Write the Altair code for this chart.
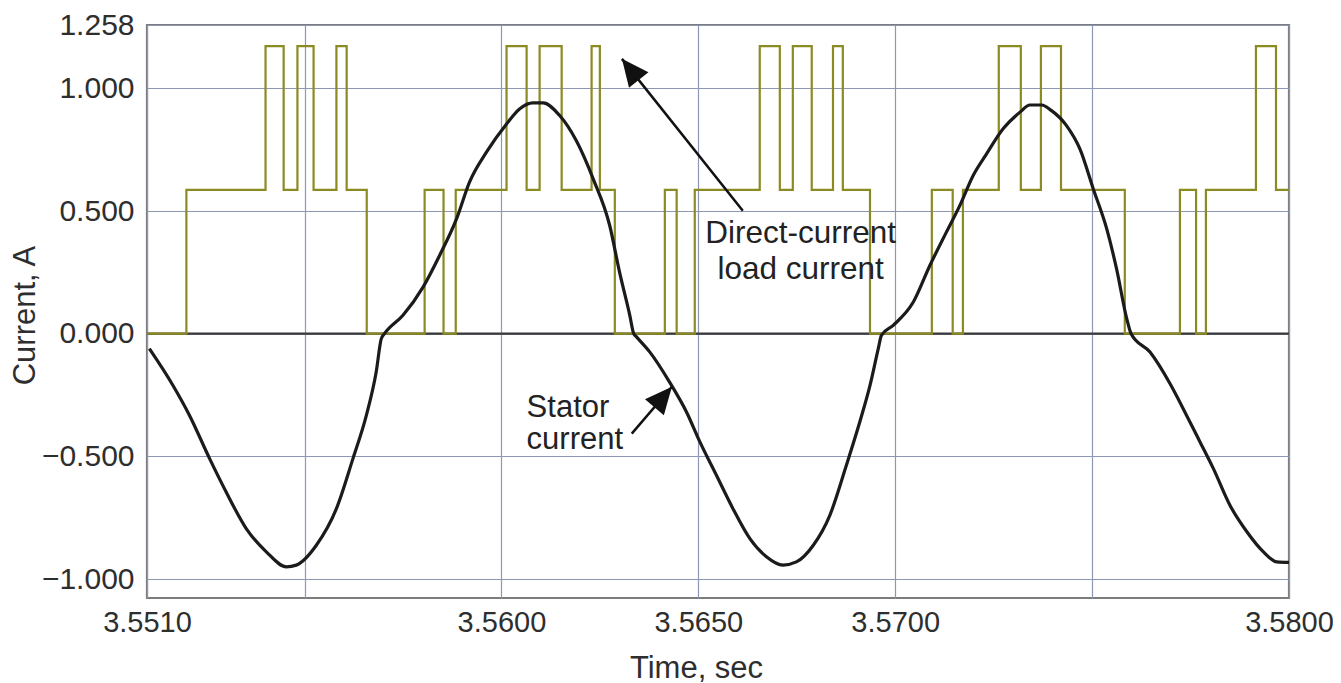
import altair as alt
import pandas as pd

# ---------------- data ----------------
stator_time = [3.55106, 3.55166, 3.55208, 3.55259, 3.55301, 3.55352, 3.55403, 3.55454, 3.55479,
               3.55530, 3.55581, 3.55623, 3.55657, 3.55682, 3.55695, 3.55703, 3.55750, 3.55801,
               3.55843, 3.55886, 3.55919, 3.55962, 3.56013, 3.56046, 3.56080, 3.56106, 3.56148,
               3.56190, 3.56233, 3.56275, 3.56300, 3.56326, 3.56336, 3.56343, 3.56377, 3.56427,
               3.56470, 3.56504, 3.56546, 3.56588, 3.56631, 3.56673, 3.56715, 3.56749, 3.56792,
               3.56834, 3.56876, 3.56910, 3.56936, 3.56957, 3.56965, 3.56995, 3.57046, 3.57088,
               3.57130, 3.57164, 3.57198, 3.57232, 3.57274, 3.57317, 3.57342, 3.57372, 3.57397,
               3.57435, 3.57469, 3.57503, 3.57537, 3.57562, 3.57588, 3.57599, 3.57647, 3.57698,
               3.57740, 3.57774, 3.57808, 3.57850, 3.57893, 3.57935, 3.57969, 3.58000]
stator_current = [-0.061, -0.211, -0.333, -0.509, -0.645, -0.794, -0.889, -0.950, -0.943,
                  -0.862, -0.713, -0.509, -0.333, -0.156, -0.020, 0.000, 0.075, 0.190,
                  0.319, 0.468, 0.618, 0.740, 0.855, 0.916, 0.941, 0.941, 0.889,
                  0.787, 0.631, 0.441, 0.251, 0.075, 0.000, -0.013, -0.075, -0.197,
                  -0.319, -0.441, -0.577, -0.713, -0.835, -0.909, -0.943, -0.930, -0.862,
                  -0.740, -0.536, -0.360, -0.211, -0.061, -0.007, 0.034, 0.129, 0.278,
                  0.414, 0.522, 0.645, 0.733, 0.835, 0.903, 0.932, 0.932, 0.909,
                  0.848, 0.753, 0.590, 0.428, 0.265, 0.061, 0.000, -0.075, -0.204,
                  -0.333, -0.441, -0.550, -0.699, -0.807, -0.889, -0.930, -0.932]

dc_time = [3.55100, 3.55200, 3.55401, 3.55447, 3.55482, 3.55523, 3.55581, 3.55607, 3.55658,
           3.55805, 3.55853, 3.55884, 3.56013, 3.56064, 3.56097, 3.56153, 3.56229, 3.56250,
           3.56288, 3.56415, 3.56445, 3.56491, 3.56656, 3.56707, 3.56740, 3.56788, 3.56842,
           3.56867, 3.56936, 3.57093, 3.57146, 3.57172, 3.57263, 3.57319, 3.57370, 3.57421,
           3.57583, 3.57723, 3.57764, 3.57789, 3.57916, 3.57967, 3.58000]
dc_current = [0.0, 0.586, 1.172, 0.586, 1.172, 0.586, 1.172, 0.586, 0.0,
              0.586, 0.0, 0.586, 1.172, 0.586, 1.172, 0.586, 1.172, 0.586,
              0.0, 0.586, 0.0, 0.586, 1.172, 0.586, 1.172, 0.586, 1.172,
              0.586, 0.0, 0.586, 0.0, 0.586, 1.172, 0.586, 1.172, 0.586,
              0.0, 0.586, 0.0, 0.586, 1.172, 0.586, 0.586]

x_ticks = [3.551, 3.555, 3.560, 3.565, 3.570, 3.575, 3.580]
y_ticks = [-1.0, -0.5, 0.0, 0.5, 1.0, 1.258]

# annotations: arrows (tail -> tip) and labels
arrow_tail_t = [3.56613, 3.56331]
arrow_tail_i = [0.501, -0.407]
arrow_tip_t = [3.56306, 3.56433]
arrow_tip_i = [1.120, -0.216]
arrow_angle = [321.5, 40.4]

label_text = ["Direct-current", "load current", "Stator", "current"]
label_t = [3.56760, 3.56760, 3.56064, 3.56064]
label_i = [0.370, 0.224, -0.338, -0.468]
label_align = ["center", "center", "left", "left"]

# ---------------- chart ----------------
FONT = "Liberation Sans"
xs = alt.Scale(domain=[3.551, 3.580], nice=False, zero=False)
ys = alt.Scale(domain=[-1.077, 1.258], nice=False, zero=False)

stator_df = pd.DataFrame({"t": stator_time, "i": stator_current})
dc_df = pd.DataFrame({"t": dc_time, "i": dc_current})
arrow_df = pd.DataFrame({"t": arrow_tail_t, "i": arrow_tail_i,
                         "t2": arrow_tip_t, "i2": arrow_tip_i, "angle": arrow_angle})
label_df = pd.DataFrame({"text": label_text, "t": label_t, "i": label_i, "align": label_align})

x_axis = alt.Axis(values=x_ticks,
                  labelExpr="(abs(datum.value-3.555)<1e-6 || abs(datum.value-3.575)<1e-6) ? '' : format(datum.value, '.4f')",
                  labelFontSize=29, labelPadding=10, labelFlush=False, labelOverlap=False,
                  ticks=False, domain=False, grid=True,
                  title="Time, sec", titleFontSize=31, titleFontWeight="normal",
                  titleX=549, titleY=79, titleBaseline="alphabetic", titleAlign="center")
y_axis = alt.Axis(values=y_ticks,
                  labelExpr="replace(format(datum.value, '.3f'), '-', '\u2013')",
                  labelFontSize=30, labelPadding=13, labelFlush=False, labelOverlap=False,
                  ticks=False, domain=False, grid=True,
                  title="Current, A", titleFontSize=31, titleFontWeight="normal",
                  titleX=-122, titleY=290, titleBaseline="middle", titleAlign="center")

base_x = alt.X("t:Q", scale=xs, axis=x_axis)
base_y = alt.Y("i:Q", scale=ys, axis=y_axis)

zero_rule = alt.Chart(pd.DataFrame({"i": [0.0]})).mark_rule(
    color="#3a3a3a", strokeWidth=2.2).encode(y=alt.Y("i:Q", scale=ys))

dc_line = alt.Chart(dc_df).mark_line(
    color="#8c8a22", strokeWidth=2.2, interpolate="step-after").encode(x=base_x, y=base_y)

stator_line = alt.Chart(stator_df).mark_line(
    color="#1b1b1b", strokeWidth=3.2, interpolate="monotone").encode(
    x=alt.X("t:Q", scale=xs), y=alt.Y("i:Q", scale=ys))

arrow_lines = alt.Chart(arrow_df).mark_rule(color="#111111", strokeWidth=2.5).encode(
    x=alt.X("t:Q", scale=xs), y=alt.Y("i:Q", scale=ys), x2="t2:Q", y2="i2:Q")

arrow_heads = alt.Chart(arrow_df).mark_point(
    shape="M0,0L0.62,1.35L-0.62,1.35Z", size=1600, filled=True, opacity=1,
    color="#111111").encode(
    x=alt.X("t2:Q", scale=xs), y=alt.Y("i2:Q", scale=ys),
    angle=alt.Angle("angle:Q", scale=None))

labels_c = alt.Chart(label_df).transform_filter("datum.align == 'center'").mark_text(
    font=FONT, fontSize=31.5, color="#222222", align="center", baseline="alphabetic").encode(
    x=alt.X("t:Q", scale=xs), y=alt.Y("i:Q", scale=ys), text="text:N")
labels_l = alt.Chart(label_df).transform_filter("datum.align == 'left'").mark_text(
    font=FONT, fontSize=31, color="#222222", align="left", baseline="alphabetic").encode(
    x=alt.X("t:Q", scale=xs), y=alt.Y("i:Q", scale=ys), text="text:N")

chart = alt.layer(zero_rule, dc_line, stator_line, arrow_lines, arrow_heads, labels_c, labels_l).properties(
    width=1142, height=573,
    autosize=alt.AutoSizeParams(type="none"),
    padding={"left": 139, "top": 17, "right": 44, "bottom": 88},
    background="white",
).configure_axis(
    gridColor="#8d96b2", gridWidth=1.2, gridOpacity=1,
    labelFont=FONT, titleFont=FONT, labelColor="#2e2e2e", titleColor="#2e2e2e",
).configure_view(stroke="#7c7c7c", strokeWidth=2.2)

chart.save("out.html", embed_options={"renderer": "svg", "actions": False})
